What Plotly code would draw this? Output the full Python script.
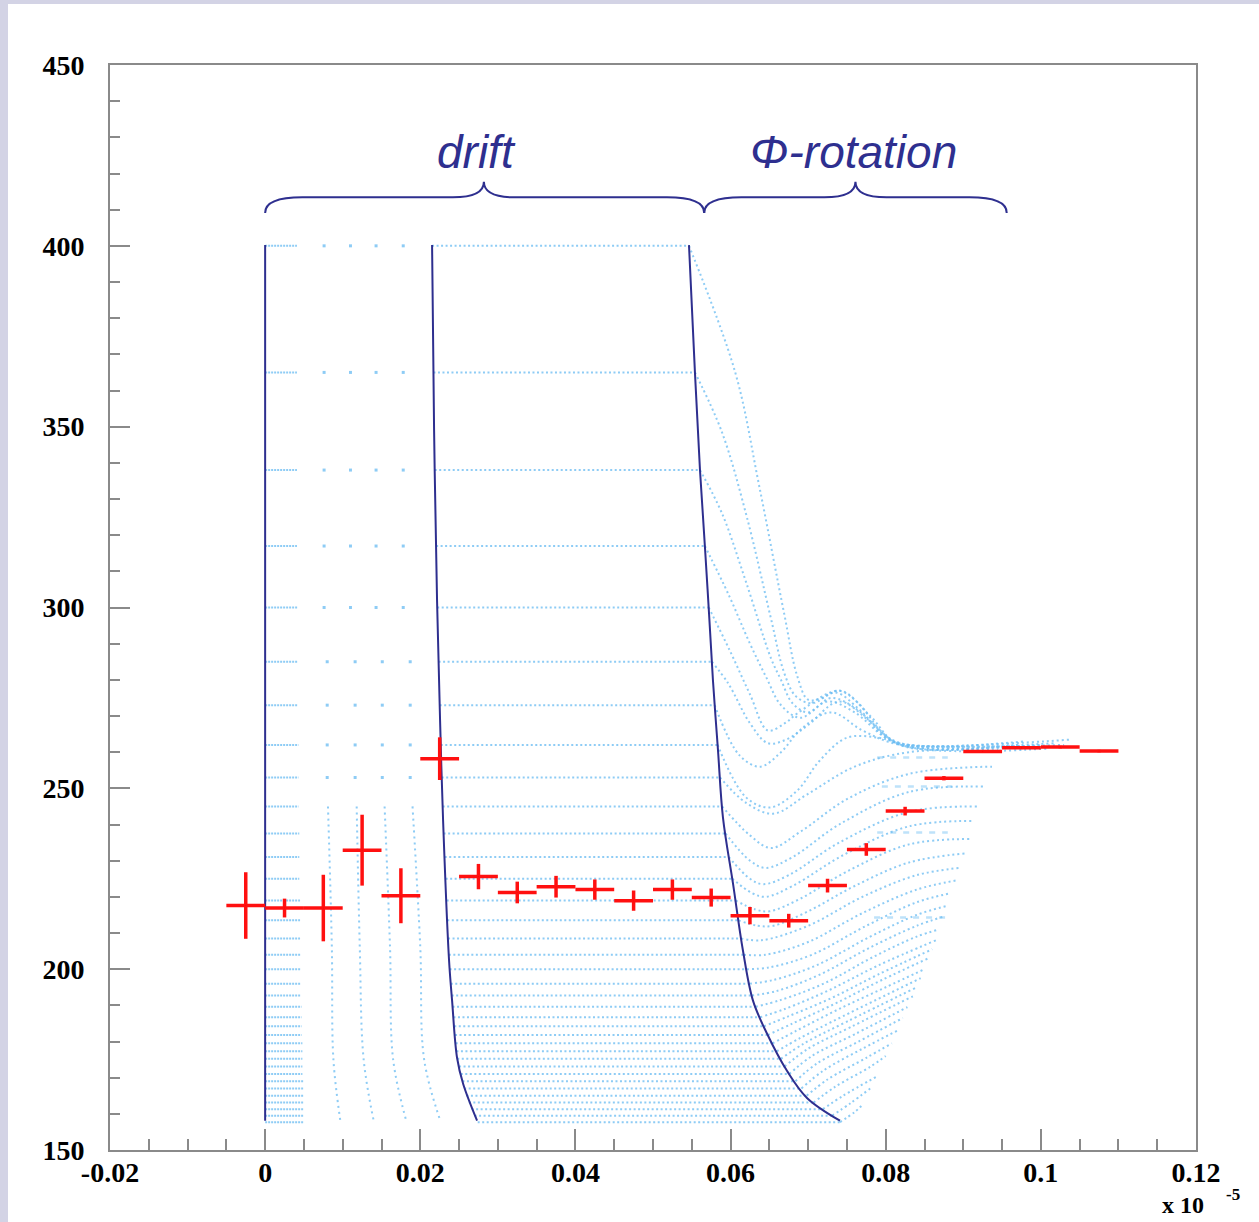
import plotly.graph_objects as go

# ---------------- data ----------------
# momentum levels of the simulated trajectories
levels = [400, 365, 338, 317, 300, 285, 273, 262, 253, 245, 237.5, 231, 225, 219,
          213.5, 208.5, 204, 200, 196, 192.7, 189.6, 186.7, 184.2, 181.8, 179.5,
          177.3, 175.2, 173.1, 171, 169, 167, 165, 163.1, 161.3, 159.5, 157.7]
# end of the dense strip that starts at t = 0
strip_end = [0.0041, 0.0041, 0.0041, 0.0041, 0.0042, 0.0042, 0.0042, 0.0043, 0.0043,
             0.0043, 0.0044, 0.0044, 0.0044, 0.0045, 0.0045, 0.0045, 0.0046, 0.0046,
             0.0046, 0.0046, 0.0047, 0.0047, 0.0047, 0.0047, 0.0048, 0.0048, 0.0048,
             0.0048, 0.0048, 0.0049, 0.0049, 0.0049, 0.0049, 0.0049, 0.0049, 0.0049]
# drift part (between second and third isochrone)
drift_start = [0.02152, 0.0217, 0.02186, 0.02204, 0.02218, 0.02236, 0.0225, 0.02264,
               0.02276, 0.02289, 0.02301, 0.02315, 0.02327, 0.0234, 0.02348, 0.02358,
               0.02368, 0.02378, 0.02393, 0.02405, 0.02416, 0.02428, 0.02438, 0.02448,
               0.02456, 0.02466, 0.02477, 0.025, 0.02522, 0.02544, 0.02566, 0.02595,
               0.02626, 0.02662, 0.027, 0.0274]
drift_end = [0.05464, 0.05541, 0.05606, 0.05669, 0.05718, 0.05759, 0.05794, 0.05833,
             0.05864, 0.05891, 0.05935, 0.05978, 0.06022, 0.06064, 0.06102, 0.06136,
             0.0617, 0.06208, 0.06247, 0.06276, 0.06323, 0.06381, 0.06429, 0.06479,
             0.0654, 0.06595, 0.06648, 0.06697, 0.06757, 0.06836, 0.06913, 0.06981,
             0.0707, 0.0719, 0.0731, 0.0741]
# phase-rotation part of each trajectory (waypoints after the drift end)
rot_x = [
    [0.0606, 0.0637, 0.0669, 0.0686, 0.0700, 0.0718, 0.0740, 0.0765, 0.0795, 0.0820, 0.1000],
    [0.0589, 0.0621, 0.0652, 0.0669, 0.0684, 0.0705, 0.0735, 0.0765, 0.0800, 0.0830, 0.1020],
    [0.0589, 0.0620, 0.0652, 0.0665, 0.0680, 0.0700, 0.0730, 0.0765, 0.0800, 0.0830, 0.0990],
    [0.0598, 0.0625, 0.0646, 0.0665, 0.0690, 0.0725, 0.0760, 0.0800, 0.0830, 0.1040],
    [0.0599, 0.0625, 0.0648, 0.0670, 0.0686, 0.0741, 0.0780, 0.0818, 0.0970],
    [0.0597, 0.0625, 0.0648, 0.0672, 0.0700, 0.0740, 0.0780, 0.0820, 0.1010],
    [0.0612, 0.0638, 0.0665, 0.0692, 0.0730, 0.0770, 0.0820, 0.0980],
    [0.0620, 0.0651, 0.0686, 0.0715, 0.0750, 0.0790, 0.0830, 0.1030],
    [0.0620, 0.0655, 0.0700, 0.0760, 0.0830, 0.0945],
    [0.0625, 0.0652, 0.0690, 0.0750, 0.0830, 0.0937],
    [0.0625, 0.0645, 0.0680, 0.0740, 0.0830, 0.0928],
    [0.0625, 0.0642, 0.0675, 0.0740, 0.0830, 0.0920],
    [0.0628, 0.0645, 0.0680, 0.0745, 0.0830, 0.0914],
    [0.0632, 0.0650, 0.0690, 0.0750, 0.0830, 0.0908],
    [0.0635, 0.0655, 0.0700, 0.0760, 0.0830, 0.0902],
    [0.0640, 0.0700, 0.0770, 0.0840, 0.0895],
    [0.0645, 0.0700, 0.0770, 0.0840, 0.0890],
    [0.0650, 0.0705, 0.0775, 0.0840, 0.0884],
    [0.0655, 0.0710, 0.0780, 0.0840, 0.0879],
    [0.0660, 0.0715, 0.0780, 0.0840, 0.0874],
    [0.0665, 0.0720, 0.0785, 0.0840, 0.0869],
    [0.0670, 0.0725, 0.0790, 0.0865],
    [0.0675, 0.0730, 0.0790, 0.0860],
    [0.0680, 0.0735, 0.0795, 0.0855],
    [0.0685, 0.0740, 0.0800, 0.0850],
    [0.0690, 0.0745, 0.0845],
    [0.0695, 0.0750, 0.0840],
    [0.0700, 0.0755, 0.0835],
    [0.0705, 0.0760, 0.0828],
    [0.0712, 0.0765, 0.0822],
    [0.0720, 0.0770, 0.0815],
    [0.0725, 0.0775, 0.0808],
    [0.0735, 0.0780, 0.0800],
    [0.0745, 0.0790],
    [0.0755, 0.0780],
    [0.0760, 0.0770],
]
rot_y = [
    [365, 333.5, 298.4, 281, 274.5, 275, 277, 273.5, 265.5, 262, 262],
    [348.4, 325, 297, 282, 275.5, 273.5, 276.5, 272, 264.5, 262, 262.5],
    [326, 307, 286, 280, 273.5, 271, 275, 271.5, 264, 261.5, 261.5],
    [303.3, 290, 280.7, 273, 269.5, 274, 271, 264, 262, 263.5],
    [288.1, 276, 266, 268, 270.7, 277, 270, 262, 262],
    [279, 268, 262.5, 263.5, 267.5, 274, 268.5, 262, 261],
    [259, 256, 260, 266.6, 271, 266, 262, 263],
    [247.5, 244.7, 249.4, 257.7, 264, 264, 262, 262],
    [246, 243, 248.5, 256, 260, 260.5],
    [237, 233.5, 238, 247, 254, 256],
    [230, 228, 231, 240, 249, 250.5],
    [225, 223.5, 226, 235, 243.5, 245],
    [221, 220, 223, 231.5, 239.5, 241],
    [216.5, 216, 219.5, 227, 234.5, 236],
    [212, 212, 216, 223, 229.5, 232],
    [208, 212, 220, 226, 228],
    [204, 207.5, 215.5, 222, 224.5],
    [200.5, 204, 212, 218.5, 221],
    [197, 201, 209, 215, 217.5],
    [194, 198.5, 206, 212, 214.5],
    [191.5, 196, 203.5, 209, 211],
    [189, 194, 201, 208],
    [187, 192, 198.5, 205.5],
    [185, 190.5, 197, 203],
    [183, 189, 195, 200],
    [181, 187, 197.5],
    [179.5, 185.5, 195],
    [178, 184, 192.5],
    [176, 182, 189.5],
    [174, 180, 186.5],
    [172, 178, 183],
    [169.5, 175.5, 179.5],
    [167.5, 173, 176],
    [165, 170.5],
    [163, 167],
    [160.5, 162.5],
]
# sparse sampling columns inside the first drift interval
col_x_top = [0.0076, 0.0110, 0.0143, 0.0178]          # used for levels >= 300
col_x_mid = [0.0080, 0.0116, 0.0151, 0.0187]          # used for levels 253..285
col_line_y = [245, 206, 175, 158]
col_line_x = [
    [0.0081, 0.0086, 0.0088, 0.0097],
    [0.0118, 0.0122, 0.0127, 0.0140],
    [0.0154, 0.0161, 0.0165, 0.0182],
    [0.0190, 0.0200, 0.0205, 0.0226],
]
# short dashed pile-ups near the end of the rotation
pile_y = [258.5, 250.5, 237.8, 214.3]
pile_x0 = [0.0789, 0.0795, 0.0789, 0.0785]
pile_x1 = [0.0880, 0.0885, 0.0880, 0.0880]

# isochrone curves (dark blue)
curve1_x = [0.0, 0.0]
curve1_y = [400.2, 158.1]
curve2_x = [0.02152, 0.02178, 0.02216, 0.02255, 0.02294, 0.02371, 0.02410, 0.02474, 0.02552, 0.02732]
curve2_y = [400.2, 349.0, 302.0, 268.8, 241.1, 202.4, 191.3, 175.5, 168.3, 158.1]
curve3_x = [0.05464, 0.05541, 0.05606, 0.05670, 0.05722, 0.05773, 0.05838, 0.05902,
            0.06031, 0.06160, 0.06289, 0.06469, 0.06727, 0.06985, 0.07410]
curve3_y = [400.2, 364.8, 337.9, 316.6, 298.4, 279.8, 260.5, 241.9, 223.7, 205.1,
            191.3, 182.2, 171.9, 164.4, 158.1]

# mean values per time bin (red crosses)
bin_x = [-0.0025, 0.0025, 0.0075, 0.0125, 0.0175, 0.0225, 0.0275, 0.0325, 0.0375,
         0.0425, 0.0475, 0.0525, 0.0575, 0.0625, 0.0675, 0.0725, 0.0775, 0.0825,
         0.0875, 0.0925, 0.0975, 0.1025, 0.1075]
bin_y = [217.6, 216.9, 216.9, 232.9, 220.3, 258.2, 225.6, 221.2, 222.8, 222.0, 218.95,
         222.0, 219.8, 214.8, 213.4, 223.1, 233.1, 243.7, 252.8, 260.2, 261.2, 261.4, 260.3]
bin_yerr = [9.2, 2.6, 9.2, 9.8, 7.6, 5.9, 3.5, 3.0, 3.0, 2.8, 2.8, 2.8, 2.5, 2.4, 1.9,
            1.9, 1.75, 1.2, 0.6, 0.35, 0.35, 0.35, 0.35]
bin_half = [0.0025] * len(bin_x)

# braces and their labels
brace_x0 = [0.0, 0.0566]
brace_x1 = [0.0566, 0.0956]
brace_tip = [0.0282, 0.0761]
brace_y_end, brace_y_bar, brace_y_tip = 409.1, 413.4, 417.7
label_text = ["drift", "Φ-rotation"]
label_x = [0.0273, 0.0758]
label_y = 425.9

x_tickvals = [-0.02, 0, 0.02, 0.04, 0.06, 0.08, 0.1, 0.12]
x_ticktext = ["-0.02", "0", "0.02", "0.04", "0.06", "0.08", "0.1", "0.12"]
y_tickvals = [150, 200, 250, 300, 350, 400, 450]

# ---------------- styles ----------------
LIGHT = "rgba(110,190,242,0.78)"
NAVY = "#2e2f8f"
AXIS = "#8a8a8a"

fig = go.Figure()

# dense strips near t = 0
sx, sy = [], []
for p, e in zip(levels, strip_end):
    sx += [0.0, e, None]
    sy += [p, p, None]
fig.add_trace(go.Scatter(x=sx, y=sy, mode="lines", hoverinfo="skip",
                         line=dict(color=LIGHT, width=2, dash="2px,1px")))

# sparse sampling columns
mx, my = [], []
for p in levels:
    if p >= 300:
        mx += col_x_top
        my += [p] * len(col_x_top)
    elif p > 250:
        mx += col_x_mid
        my += [p] * len(col_x_mid)
fig.add_trace(go.Scatter(x=mx, y=my, mode="markers", hoverinfo="skip",
                         marker=dict(color=LIGHT, size=3, symbol="square")))
cx, cy = [], []
for xs in col_line_x:
    cx += xs + [None]
    cy += col_line_y + [None]
fig.add_trace(go.Scatter(x=cx, y=cy, mode="lines", hoverinfo="skip", line_shape="spline",
                         line=dict(color=LIGHT, width=2, dash="2px,4px")))

# drift segments
dx, dy = [], []
for p, a, b in zip(levels, drift_start, drift_end):
    dx += [a, b, None]
    dy += [p, p, None]
fig.add_trace(go.Scatter(x=dx, y=dy, mode="lines", hoverinfo="skip",
                         line=dict(color=LIGHT, width=2, dash="2px,2.5px")))

# rotation parts
rx, ry = [], []
for p, b, xs, ys in zip(levels, drift_end, rot_x, rot_y):
    rx += [b] + xs + [None]
    ry += [p] + ys + [None]
fig.add_trace(go.Scatter(x=rx, y=ry, mode="lines", hoverinfo="skip", line_shape="spline",
                         line=dict(color=LIGHT, width=2, dash="2px,3px")))

# pile-ups
px_, py_ = [], []
for y, a, b in zip(pile_y, pile_x0, pile_x1):
    px_ += [a, b, None]
    py_ += [y, y, None]
fig.add_trace(go.Scatter(x=px_, y=py_, mode="lines", hoverinfo="skip",
                         line=dict(color="rgba(110,190,242,0.45)", width=2.5, dash="6px,7px")))

# isochrones
for xs, ys in [(curve1_x, curve1_y), (curve2_x, curve2_y), (curve3_x, curve3_y)]:
    fig.add_trace(go.Scatter(x=xs, y=ys, mode="lines", hoverinfo="skip", line_shape="spline",
                             line=dict(color=NAVY, width=2)))

# red crosses
fig.add_trace(go.Scatter(
    x=bin_x, y=bin_y, mode="markers", hoverinfo="skip",
    marker=dict(size=1, color="red"),
    error_x=dict(type="data", array=bin_half, visible=True, color="#ff1010", thickness=3.5, width=0),
    error_y=dict(type="data", array=bin_yerr, visible=True, color="#ff1010", thickness=3.5, width=0),
))

# braces
shapes = []
ce, ct = 0.0048, 0.0040
for x0, x1, xt in zip(brace_x0, brace_x1, brace_tip):
    path = (f"M {x0},{brace_y_end} Q {x0},{brace_y_bar} {x0 + ce},{brace_y_bar} "
            f"L {xt - ct},{brace_y_bar} Q {xt},{brace_y_bar} {xt},{brace_y_tip} "
            f"Q {xt},{brace_y_bar} {xt + ct},{brace_y_bar} "
            f"L {x1 - ce},{brace_y_bar} Q {x1},{brace_y_bar} {x1},{brace_y_end}")
    shapes.append(dict(type="path", xref="x", yref="y", path=path,
                       line=dict(color=NAVY, width=2)))

# white page over lavender frame
shapes.insert(0, dict(type="rect", xref="paper", yref="paper", layer="below",
                      x0=(8 - 110) / 1086, x1=(1262 - 110) / 1086,
                      y0=(1150 - 1225) / 1085, y1=(1150 - 4) / 1085,
                      fillcolor="white", line=dict(width=0)))

annotations = []
for t, x in zip(label_text, label_x):
    annotations.append(dict(x=x, y=label_y, xref="x", yref="y", text=t, showarrow=False,
                            xanchor="center", yanchor="middle",
                            font=dict(family="Liberation Sans", size=46, color=NAVY, style="italic")))
annotations.append(dict(x=(1161 - 110) / 1086, y=(1150 - 1205) / 1085, xref="paper", yref="paper",
                        text="x 10", showarrow=False, xanchor="left", yanchor="middle", borderpad=0,
                        font=dict(family="Liberation Serif", size=24, color="black", weight="bold")))
annotations.append(dict(x=(1225 - 110) / 1086, y=(1150 - 1194) / 1085, xref="paper", yref="paper",
                        text="-5", showarrow=False, xanchor="left", yanchor="middle", borderpad=0,
                        font=dict(family="Liberation Serif", size=17, color="black", weight="bold")))

tickfont = dict(family="Liberation Serif", size=28, color="black", weight="bold")
fig.update_layout(
    width=1259, height=1222,
    margin=dict(l=110, r=63, t=65, b=72, autoexpand=False),
    paper_bgcolor="#d3d3e5", plot_bgcolor="white",
    showlegend=False,
    shapes=shapes, annotations=annotations,
    xaxis=dict(range=[-0.02, 0.12], tickmode="array", tickvals=x_tickvals, ticktext=x_ticktext,
               ticks="inside", ticklen=21, tickwidth=1.5, tickcolor=AXIS,
               minor=dict(tickmode="linear", tick0=-0.02, dtick=0.005, ticks="inside",
                          ticklen=11, tickwidth=1.5, tickcolor=AXIS, showgrid=False),
               showline=True, linecolor=AXIS, linewidth=2, mirror=True,
               showgrid=False, zeroline=False, tickfont=tickfont, ticklabelstandoff=-4),
    yaxis=dict(range=[150, 450], tickmode="array", tickvals=y_tickvals,
               ticks="inside", ticklen=20, tickwidth=1.5, tickcolor=AXIS,
               minor=dict(tickmode="linear", tick0=150, dtick=10, ticks="inside",
                          ticklen=10, tickwidth=1.5, tickcolor=AXIS, showgrid=False),
               showline=True, linecolor=AXIS, linewidth=2, mirror=True,
               showgrid=False, zeroline=False, tickfont=tickfont, ticklabelstandoff=18),
)

fig.write_html("out.html")
